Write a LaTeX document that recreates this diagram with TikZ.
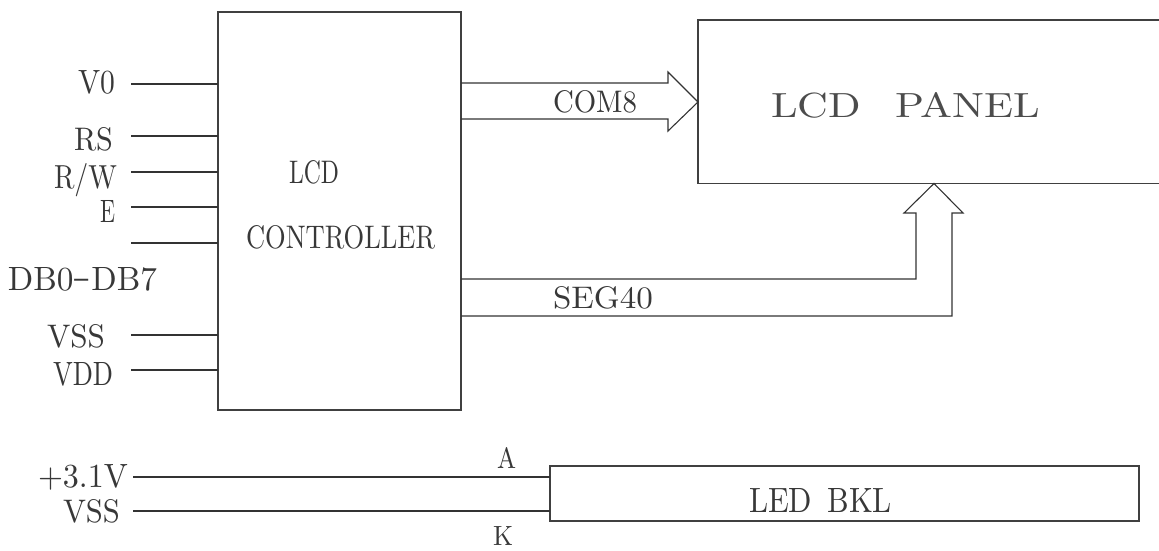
\documentclass[tikz,border=0pt]{standalone}
\usepackage{graphicx}
\newcommand{\lblfit}[3]{\resizebox{#1pt}{#2pt}{#3}}
\begin{document}
\begin{tikzpicture}[x=1pt,y=-1pt,
  wire/.style={draw=black!80, line width=1.1pt},
  boxn/.style={draw=black!75, line width=1.1pt, inner sep=0pt, outer sep=0pt},
  lbl/.style={inner sep=0pt, outer sep=0pt, text=black!78}]
\useasboundingbox (0,0) rectangle (1159,550);
% blocks
\node[boxn, minimum width=243pt, minimum height=398pt] (ctrl) at (339.5,211) {};
\node[boxn, minimum width=467pt, minimum height=163.5pt] (panel) at (931.5,101.75) {};
\node[boxn, minimum width=589pt, minimum height=55pt] (led) at (844.5,493.5) {};
% block texts
\node[lbl, anchor=base west] (tLCD) at (289,183) {\lblfit{50}{23}{LCD}};
\node[lbl, anchor=base west] (tCTRL) at (246,248) {\lblfit{189}{23}{CONTROLLER}};
\node[lbl, anchor=base west, text=black!70] (tPANEL) at (771,117) {\lblfit{269}{25}{LCD\hspace{0.8em}PANEL}};
\node[lbl, anchor=base west] (tLED) at (749,512) {\lblfit{143}{24}{LED\hspace{0.5em}BKL}};
% pin start coordinates
\coordinate (pV0) at (131,84);
\coordinate (pRS) at (131,136);
\coordinate (pRW) at (131,172);
\coordinate (pE) at (131,207);
\coordinate (pDB) at (131,243);
\coordinate (pVSS) at (131,335);
\coordinate (pVDD) at (131,370);
\foreach \p in {pV0,pRS,pRW,pE,pDB,pVSS,pVDD}
  \draw[wire] (\p) -- (\p -| ctrl.west);
% pin labels
\node[lbl, anchor=base west] (lV0) at (78,93) {\lblfit{37}{23}{V0}};
\node[lbl, anchor=base west] (lRS) at (74,150) {\lblfit{39}{23}{RS}};
\node[lbl, anchor=base west] (lRW) at (54,188) {\lblfit{63}{25}{R/W}};
\node[lbl, anchor=base west] (lE) at (100,222) {\lblfit{15}{22}{E}};
\node[lbl, anchor=base west] (lDB) at (8,290) {\lblfit{149}{23}{DB0\raisebox{0.08em}{\scalebox{1.6}[1]{-}}DB7}};
\node[lbl, anchor=base west] (lVSS) at (47,347) {\lblfit{58}{23}{VSS}};
\node[lbl, anchor=base west] (lVDD) at (53,385) {\lblfit{60}{23}{VDD}};
% COM8 bus arrow
\coordinate (c1) at (ctrl.east |- 0,83);
\coordinate (c2) at (ctrl.east |- 0,119);
\coordinate (ctip) at (panel.west |- 0,102);
\draw[wire, line join=miter] (c1) -- (668,83) -- (668,72) -- (ctip) -- (668,131) -- (668,119) -- (c2);
\node[lbl, anchor=base west] (tCOM) at (553,112) {\lblfit{84}{22}{COM8}};
% SEG40 bus arrow
\coordinate (s1) at (ctrl.east |- 0,279);
\coordinate (s2) at (ctrl.east |- 0,316);
\coordinate (stip) at (panel.south -| 934,0);
\draw[wire, line join=miter] (s1) -- (916,279) -- (916,213) -- (904,213) -- (stip) -- (963,213) -- (952,213) -- (952,316) -- (s2);
\node[lbl, anchor=base west] (tSEG) at (553,308) {\lblfit{100}{22}{SEG40}};
% backlight
\coordinate (bA) at (133,477);
\coordinate (bK) at (133,511);
\draw[wire] (bA) -- (bA -| led.west);
\draw[wire] (bK) -- (bK -| led.west);
\node[lbl, anchor=base west] (l31) at (38,487) {\lblfit{90}{23}{+3.1V}};
\node[lbl, anchor=base west] (lVSSb) at (63,522) {\lblfit{57}{23}{VSS}};
\node[lbl, anchor=base west] (lA) at (497,468) {\lblfit{19}{21}{A}};
\node[lbl, anchor=base west] (lK) at (493,545) {\lblfit{20}{19}{K}};
\end{tikzpicture}
\end{document}
